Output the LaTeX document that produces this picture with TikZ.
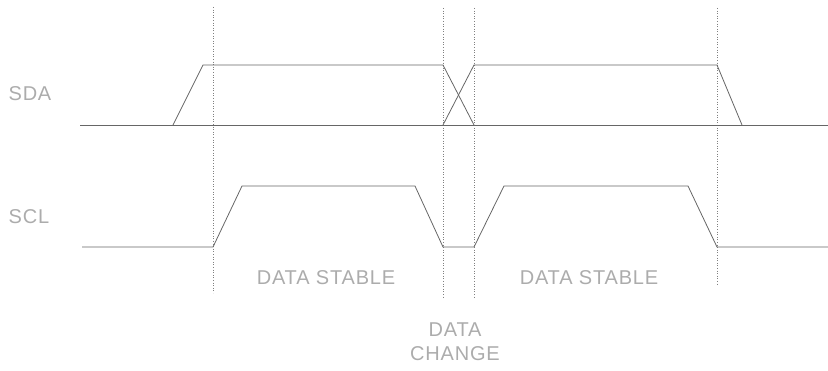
\documentclass[tikz,border=0pt]{standalone}
\usepackage{fontspec}
\setmainfont{Liberation Sans}
\begin{document}
\begin{tikzpicture}[x=1pt, y=-1pt,
  wave/.style={draw=gray!80!black, line width=0.8pt},
  guide/.style={draw=gray, dotted, line width=0.6pt},
  lbl/.style={text=gray!65, font=\fontsize{20}{24}\selectfont\addfontfeature{LetterSpace=4}}]
\useasboundingbox (0,0) rectangle (828,371);
\foreach \x/\t/\b in {213/7/293, 443/8/297, 474/8/297, 717/8/285}
  \draw[guide] (\x,\t) -- (\x,\b);
% SDA
\draw[wave] (80,125) -- (828,125);
\draw[wave] (173,125) -- (203,65) -- (443,65) -- (474,125);
\draw[wave] (443,125) -- (474,65) -- (717,65) -- (742,125);
% SCL
\draw[wave] (82,247) -- (213,247) -- (242,186) -- (415,186) -- (443,247) -- (474,247)
  -- (504,186) -- (688,186) -- (717,247) -- (828,247);
\node[lbl] (sda) at (30,94) {SDA};
\node[lbl] (scl) at (29,217) {SCL};
\node[lbl] (stable1) at (326,278) {DATA STABLE};
\node[lbl] (stable2) at (589,278) {DATA STABLE};
\node[lbl, align=center] (change) at (455,342) {DATA\\CHANGE};
\end{tikzpicture}
\end{document}
